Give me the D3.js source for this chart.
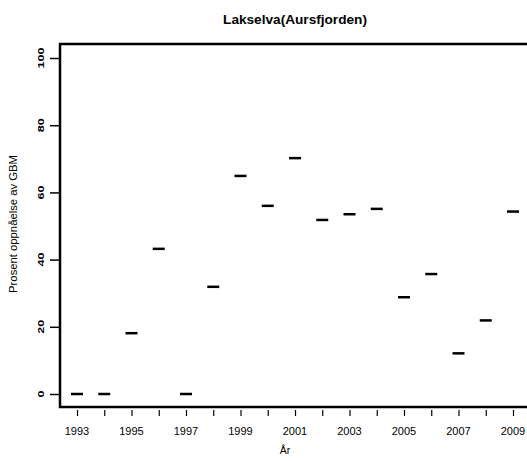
<!DOCTYPE html>
<html><head><meta charset="utf-8">
<script src="https://cdn.jsdelivr.net/npm/d3@7"></script>
<style>body{margin:0;background:#fff}svg{display:block}text{font-family:"Liberation Sans",Arial,sans-serif;fill:#000}</style>
</head><body><svg id="c" width="527" height="461"></svg>
<script>
const years = [1993,1994,1995,1996,1997,1998,1999,2000,2001,2002,2003,2004,2005,2006,2007,2008,2009];
const values = [0,0,18.1,43.2,0,31.9,64.9,56,70.2,51.8,53.5,55.1,28.8,35.7,12.1,21.9,54.3];
const yTicks = [0,20,40,60,80,100];
const xLabels = [1993,1995,1997,1999,2001,2003,2005,2007,2009];

const svg = d3.select("#c");
const x = d3.scaleLinear().domain([1993,2009]).range([77,513]);
const y = d3.scaleLinear().domain([0,100]).range([394,58]);

function fit(sel, target){
  const w = sel.node().getComputedTextLength();
  const fs = parseFloat(sel.attr("font-size"));
  sel.attr("font-size", fs*target/w);
}

// frame
svg.append("path").attr("d","M527,44H60V407H527").attr("fill","none").attr("stroke","#000").attr("stroke-width",2.5);

// x axis
const xa = svg.append("g").attr("transform","translate(0,407)")
  .call(d3.axisBottom(x).tickValues(years).tickSize(8).tickSizeOuter(0).tickPadding(0).tickFormat(""));
xa.select(".domain").remove();
xa.selectAll(".tick line").attr("y1",3).attr("y2",9).attr("stroke-width",1.2);
svg.append("g").selectAll("text").data(xLabels).join("text")
  .attr("x",d=>x(d)).attr("y",435).attr("text-anchor","middle").attr("font-size",11).attr("fill","#111").text(d=>d);

// y axis
const ya = svg.append("g").attr("transform","translate(60,0)")
  .call(d3.axisLeft(y).tickValues(yTicks).tickSize(10).tickSizeOuter(0).tickFormat(""));
ya.select(".domain").remove();
ya.selectAll(".tick line").attr("stroke-width",1.5);
svg.append("g").selectAll("text").data(yTicks).join("text")
  .attr("transform",d=>`translate(44,${y(d)}) rotate(-90) scale(1.4,1)`).attr("text-anchor","middle")
  .attr("font-size",9).attr("font-weight","bold").text(d=>d);

// markers
svg.append("g").selectAll("line").data(years).join("line")
  .attr("x1",(d)=>x(d)-6).attr("x2",(d)=>x(d)+6)
  .attr("y1",(d,i)=>y(values[i])).attr("y2",(d,i)=>y(values[i]))
  .attr("stroke","#000").attr("stroke-width",2.5);

// titles
const t = svg.append("text").attr("x",295).attr("y",24).attr("text-anchor","middle")
  .attr("font-size",11).attr("font-weight","bold").text("Lakselva(Aursfjorden)");
fit(t,144);
svg.append("text").attr("x",285).attr("y",454).attr("text-anchor","middle")
  .attr("font-size",10.5).attr("fill","#222").text("År");
const yl = svg.append("text").attr("transform","translate(17,224) rotate(-90)").attr("text-anchor","middle")
  .attr("font-size",10).attr("fill","#222").text("Prosent oppnåelse av GBM");
fit(yl,138);
</script></body></html>
